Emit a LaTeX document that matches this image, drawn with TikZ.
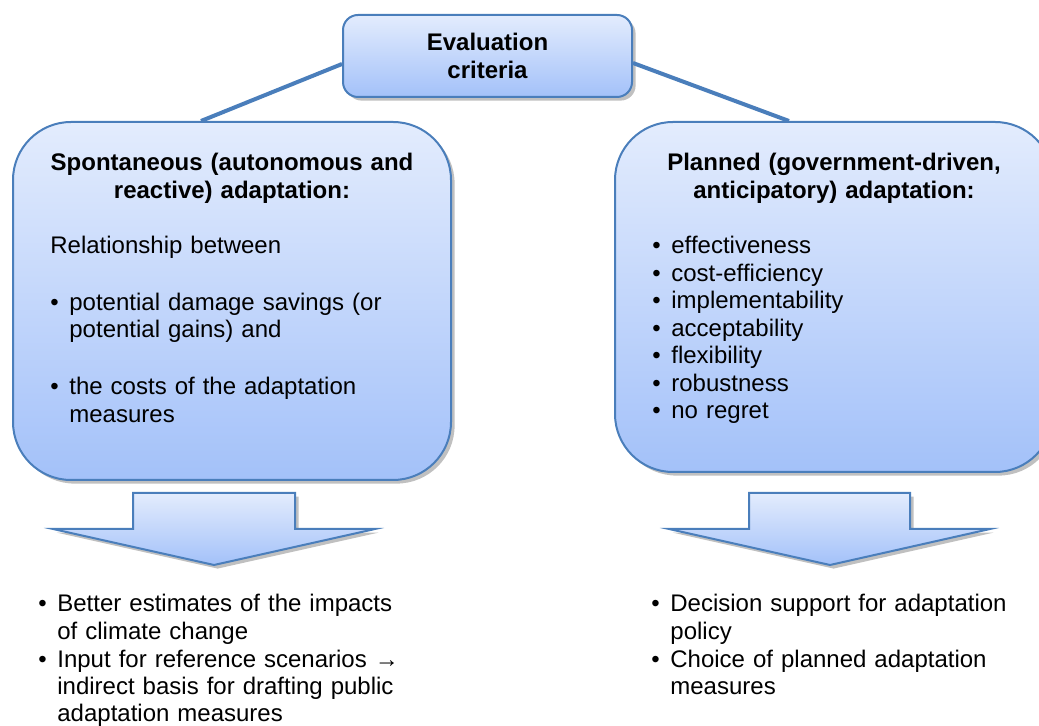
\documentclass[tikz,border=0pt]{standalone}
\usepackage{fontspec}
\setmainfont{Liberation Sans}
\usepackage{tikz}
\usetikzlibrary{shapes,arrows,positioning,shadows}

\definecolor{boxline}{RGB}{74,126,187}
\definecolor{shadetop}{RGB}{227,236,253}
\definecolor{shadebot}{RGB}{163,193,249}

\newcommand{\bitem}[1]{\noindent\makebox[9.5pt][l]{\textbullet}\begin{tabular}[t]{@{}l@{}}#1\end{tabular}\par}

\begin{document}
\begin{tikzpicture}[
    x=0.5pt, y=-0.5pt,
    shade box/.style={draw=boxline, line width=1pt, top color=shadetop, bottom color=shadebot,
        drop shadow={shadow xshift=1.8pt, shadow yshift=-1.8pt, fill=black!45, opacity=0.55}},
    crit/.style={shade box, rectangle, rounded corners=7.5pt, minimum width=144.5pt, minimum height=41pt,
        align=center, font=\fontsize{12}{13.75}\selectfont\bfseries},
    branch/.style={shade box, rectangle, rounded corners=29pt, minimum width=219pt},
    heading/.style={text width=200pt, align=center, inner sep=0pt, anchor=base,
        font=\fontsize{12}{13.75}\selectfont\bfseries},
    items/.style={text width=190pt, align=left, inner sep=0pt, anchor=base west,
        font=\fontsize{12}{13.75}\selectfont},
    results/.style={items, text width=200pt, font=\fontsize{12}{13.5}\selectfont},
    connector/.style={draw=boxline, line width=2pt},
    blockarrow/.style={shade box, line join=miter}
]
    \useasboundingbox (0,0) rectangle (1039,726);

    % criteria and the two kinds of adaptation
    \node[crit] (eval) at (487.5,56) {Evaluation\\criteria};
    \node[branch, minimum height=179pt] (spont) at (232,301) {};
    \node[branch, minimum height=175pt] (plan) at (834,297) {};

    \draw[connector] ([yshift=-4pt]eval.west) -- ([xshift=-15.5pt]spont.north);
    \draw[connector] ([yshift=-3.5pt]eval.east) -- ([xshift=-22.5pt]plan.north);

    \node[heading] (spont title) at ([yshift=-25pt]spont.north) {Spontaneous (autonomous and\\reactive) adaptation:};
    \node[items] (spont text) at ([xshift=19pt, yshift=-66.5pt]spont.north west) {Relationship between\par\vskip14.5pt
        \bitem{potential damage savings (or\\potential gains) and}\vskip13.75pt
        \bitem{the costs of the adaptation\\measures}};

    \node[heading] (plan title) at ([yshift=-25pt]plan.north) {Planned (government-driven,\\anticipatory) adaptation:};
    \node[items] (plan text) at ([xshift=19pt, yshift=-66.5pt]plan.north west) {\bitem{effectiveness}
        \bitem{cost-efficiency}\bitem{implementability}\bitem{acceptability}
        \bitem{flexibility}\bitem{robustness}\bitem{no regret}};

    % block arrows and results
    \draw[blockarrow] (133,493) -- (295,493) -- (295,529) -- (375,529) -- (214,565) -- (53,529) -- (133,529) -- cycle;
    \draw[blockarrow] (749,493) -- (910,493) -- (910,529) -- (990,529) -- (830,565) -- (669,529) -- (749,529) -- cycle;

    \node[results] (spont result) at (38,612) {\bitem{Better estimates of the impacts\\of climate change}
        \bitem{Input for reference scenarios →\\indirect basis for drafting public\\adaptation measures}};
    \node[results] (plan result) at (651,612) {\bitem{Decision support for adaptation\\policy}
        \bitem{Choice of planned adaptation\\measures}};
\end{tikzpicture}
\end{document}
